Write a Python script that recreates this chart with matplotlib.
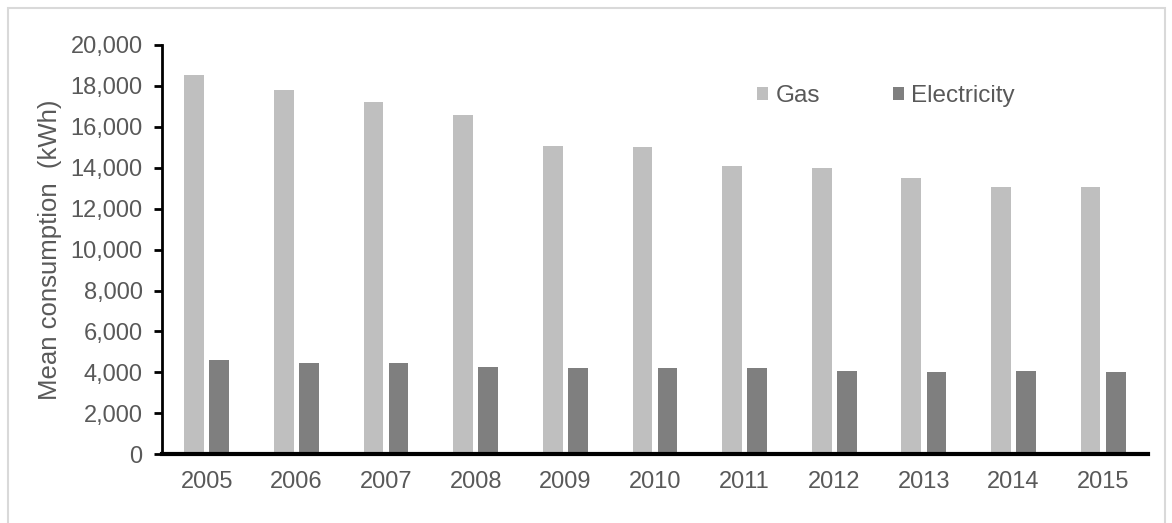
import matplotlib.pyplot as plt
import numpy as np
from matplotlib import patches
from matplotlib.ticker import FuncFormatter

plt.rcParams['font.family'] = ['Liberation Sans', 'DejaVu Sans']

years = ['2005', '2006', '2007', '2008', '2009', '2010',
         '2011', '2012', '2013', '2014', '2015']
gas = [18550, 17800, 17200, 16600, 15050, 15000, 14100, 14000, 13500, 13050, 13050]
electricity = [4600, 4480, 4480, 4280, 4200, 4200, 4200, 4080, 4000, 4080, 4000]

text_col = '#595959'

fig = plt.figure(figsize=(11.72, 5.23), dpi=100)
ax = fig.add_axes([0.1382, 0.1314, 0.8413, 0.7826])

x = np.arange(len(years))
w = 0.22
ax.bar(x - 0.14, gas, w, color='#bfbfbf', label='Gas')
ax.bar(x + 0.14, electricity, w, color='#7f7f7f', label='Electricity')

ax.set_xlim(-0.5, len(years) - 0.5)
ax.set_ylim(0, 20000)
ax.set_yticks(np.arange(0, 20001, 2000))
ax.yaxis.set_major_formatter(FuncFormatter(lambda v, p: f'{int(v):,}'))
ax.set_xticks(x)
ax.set_xticklabels(years)

for s in ['top', 'right']:
    ax.spines[s].set_visible(False)
ax.spines['left'].set_linewidth(2)
ax.spines['bottom'].set_linewidth(3)
ax.tick_params(axis='y', length=6, width=2, pad=8, labelsize=17, labelcolor=text_col)
ax.tick_params(axis='x', length=0, pad=12, labelsize=17, labelcolor=text_col)

ax.set_ylabel('Mean consumption  (kWh)', fontsize=18.5, color=text_col, labelpad=6)

fig.legend(loc='center', bbox_to_anchor=(886 / 1172, 1 - 96 / 523), ncol=2,
           frameon=False, fontsize=17.5, labelcolor=text_col,
           handlelength=0.45, handleheight=0.45, handletextpad=0.3, columnspacing=3.0)

# light frame around the chart area
fig.patches.append(patches.Rectangle((8 / 1172, -0.05), 1157 / 1172, 1.05 - 8 / 523,
                                     transform=fig.transFigure, fill=False,
                                     edgecolor='#d9d9d9', lw=1.5))

fig.savefig('out.png', dpi=100)
